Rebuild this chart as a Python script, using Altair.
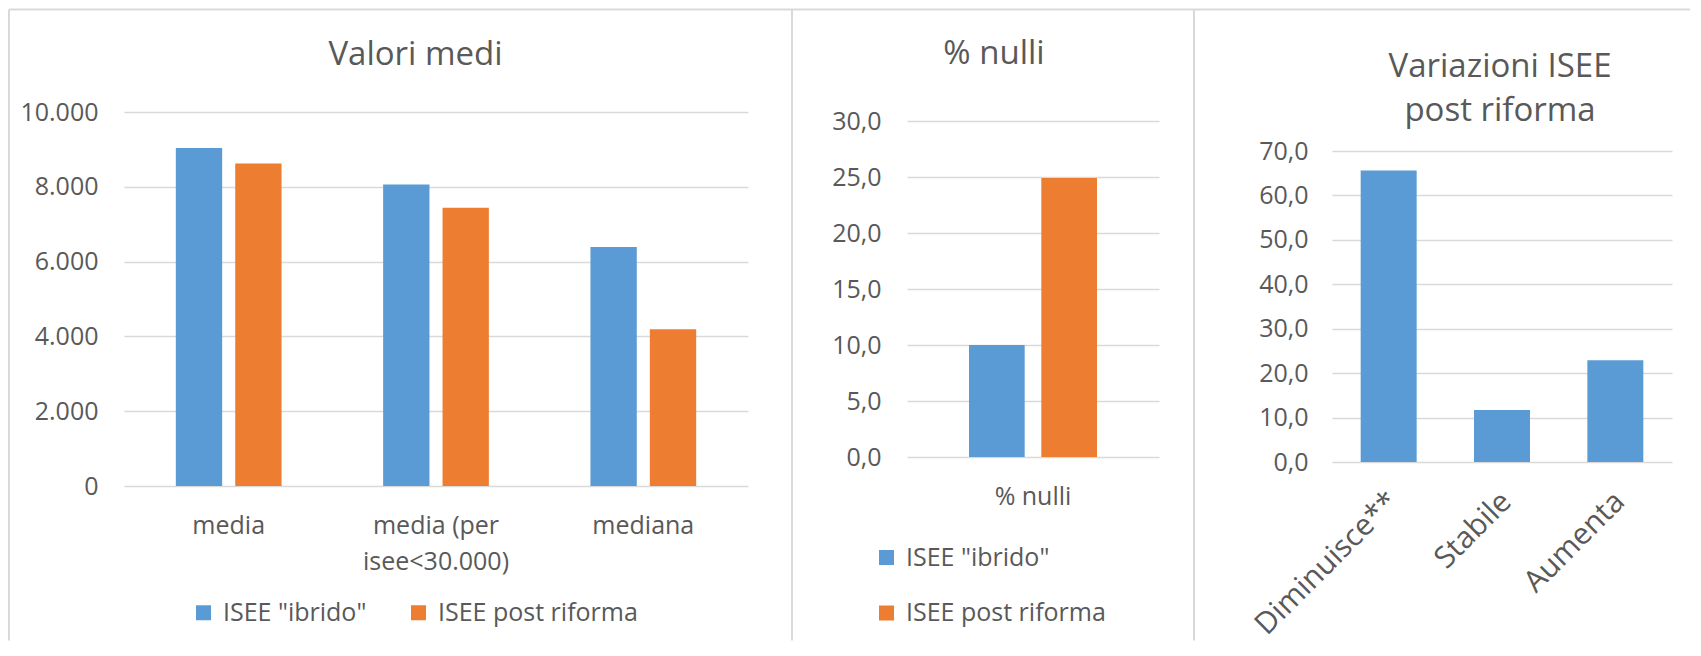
import altair as alt
import pandas as pd

# ---------------- data ----------------
series = ['ISEE "ibrido"', 'ISEE post riforma']

cat1 = ["media", "media (per isee<30.000)", "mediana"]
ibrido1 = [9040, 8060, 6390]
post1 = [8620, 7440, 4190]

cat2 = ["% nulli"]
ibrido2 = [10.0]
post2 = [24.9]

cat3 = ["Diminuisce**", "Stabile", "Aumenta"]
var3 = [65.6, 11.7, 22.9]

ticks1 = [0, 2000, 4000, 6000, 8000, 10000]
ticks2 = [0, 5, 10, 15, 20, 25, 30]
ticks3 = [0, 10, 20, 30, 40, 50, 60, 70]

titles = ["Valori medi", "% nulli", ["Variazioni ISEE", "post riforma"]]

# ---------------- style ----------------
BLUE = "#5b9bd5"
ORANGE = "#ed7d31"
GRID = "#d9d9d9"
TXT = "#595959"
BORDER = "#d9d9d9"
FONT = "Open Sans"

df1 = pd.DataFrame({
    "cat": cat1 * 2,
    "serie": [series[0]] * len(cat1) + [series[1]] * len(cat1),
    "val": ibrido1 + post1,
})
df2 = pd.DataFrame({
    "cat": cat2 * 2,
    "serie": [series[0]] * len(cat2) + [series[1]] * len(cat2),
    "val": ibrido2 + post2,
})
df3 = pd.DataFrame({"cat": cat3, "val": var3})

color_scale = alt.Scale(domain=series, range=[BLUE, ORANGE])

EXPR_DOT = "replace(format(datum.value, ','), ',', '.')"
EXPR_COMMA = "replace(format(datum.value, '.1f'), '.', ',')"


def yaxis(values, expr, pad):
    return alt.Axis(values=values, labelExpr=expr, title=None, grid=True,
                    gridColor=GRID, gridWidth=1.5, domain=False, ticks=False,
                    tickSize=0, labelPadding=pad, labelFontSize=25,
                    labelColor=TXT, labelFont=FONT)


def xaxis(pad, size=25, **kw):
    base = dict(title=None, domain=False, ticks=False, tickSize=0,
                labelPadding=pad, labelFontSize=size, labelColor=TXT,
                labelFont=FONT, labelLimit=500)
    base.update(kw)
    return alt.Axis(**base)


def title(text, dx, dy, lh=41):
    return alt.TitleParams(text, fontSize=33, font=FONT, color=TXT,
                           fontWeight="normal", anchor="middle", frame="group",
                           baseline="alphabetic", offset=0, dx=dx, dy=dy,
                           lineHeight=lh)


def legend(x, y, direction, **kw):
    return alt.Legend(title=None, orient="none", legendX=x, legendY=y,
                      direction=direction, symbolType="square",
                      symbolSize=225, symbolStrokeWidth=0, symbolOpacity=1,
                      labelFontSize=25, labelColor=TXT, labelFont=FONT,
                      labelOffset=7, labelLimit=500, padding=0, **kw)


p1 = alt.Chart(df1).mark_bar().encode(
    x=alt.X("cat:N", sort=cat1,
            scale=alt.Scale(paddingInner=0.49, paddingOuter=0.25),
            axis=xaxis(47, labelAngle=0, labelBaseline="alphabetic",
                       labelLineHeight=36,
                       labelExpr="split(replace(datum.label, '(per ', '(per|'), '|')")),
    xOffset=alt.XOffset("serie:N", sort=series,
                        scale=alt.Scale(paddingInner=0.22, paddingOuter=0)),
    y=alt.Y("val:Q", scale=alt.Scale(domain=[0, 10000], nice=False),
            axis=yaxis(ticks1, EXPR_DOT, 26)),
    color=alt.Color("serie:N", scale=color_scale,
                    legend=legend(67, 488, "horizontal", columnPadding=39)),
).properties(width=624, height=374, title=title(titles[0], -20.5, -1.8))

p2 = alt.Chart(df2).mark_bar().encode(
    x=alt.X("cat:N", sort=cat2,
            scale=alt.Scale(paddingInner=0.2, paddingOuter=0.3875, range=[-7, 245]),
            axis=xaxis(47, labelAngle=0, labelBaseline="alphabetic")),
    xOffset=alt.XOffset("serie:N", sort=series,
                        scale=alt.Scale(paddingInner=0.23, paddingOuter=0)),
    y=alt.Y("val:Q", scale=alt.Scale(domain=[0, 30], nice=False, range=[345, 9]),
            axis=yaxis(ticks2, EXPR_COMMA, 33)),
    color=alt.Color("serie:N", scale=color_scale,
                    legend=legend(-40, 433, "vertical", rowPadding=29.5)),
).properties(width=252, height=345, title=title(titles[1], -46, -11.8))

p3 = alt.Chart(df3).mark_bar(color=BLUE).encode(
    x=alt.X("cat:N", sort=cat3,
            scale=alt.Scale(paddingInner=0.506, paddingOuter=0.253),
            axis=xaxis(24, size=30, labelAngle=315, labelAlign="right",
                       labelBaseline="top", labelOffset=-6)),
    y=alt.Y("val:Q", scale=alt.Scale(domain=[0, 70], nice=False, range=[350, 39]),
            axis=yaxis(ticks3, EXPR_COMMA, 24)),
).properties(width=340, height=350, title=title(titles[2], -2, 41.7, lh=44))

# chart-area borders (decoration only; pixels relative to a 0x0 helper view)
SHIFT = 20.5
bd = pd.DataFrame({"k": [0]})
vrules = [
    alt.Chart(bd).mark_rule(color=BORDER, strokeWidth=2).encode(
        x=alt.value(xv), y=alt.value(-103 + SHIFT), y2=alt.value(528 + SHIFT))
    for xv in (-115, 668, 1070)
]
hrule = alt.Chart(bd).mark_rule(color=BORDER, strokeWidth=2).encode(
    x=alt.value(-115), x2=alt.value(1566), y=alt.value(-103 + SHIFT))
borders = alt.layer(*vrules, hrule).properties(width=0, height=0)

panels = alt.hconcat(p1, p2, p3, spacing=166, bounds="flush").resolve_scale(
    color="independent", xOffset="independent")

chart = alt.vconcat(borders, panels, spacing=0, bounds="flush").resolve_scale(
    color="independent"
).properties(padding=0).configure(font=FONT).configure_view(strokeWidth=0)

chart.save("out.html", embed_options={"renderer": "svg", "actions": False})
